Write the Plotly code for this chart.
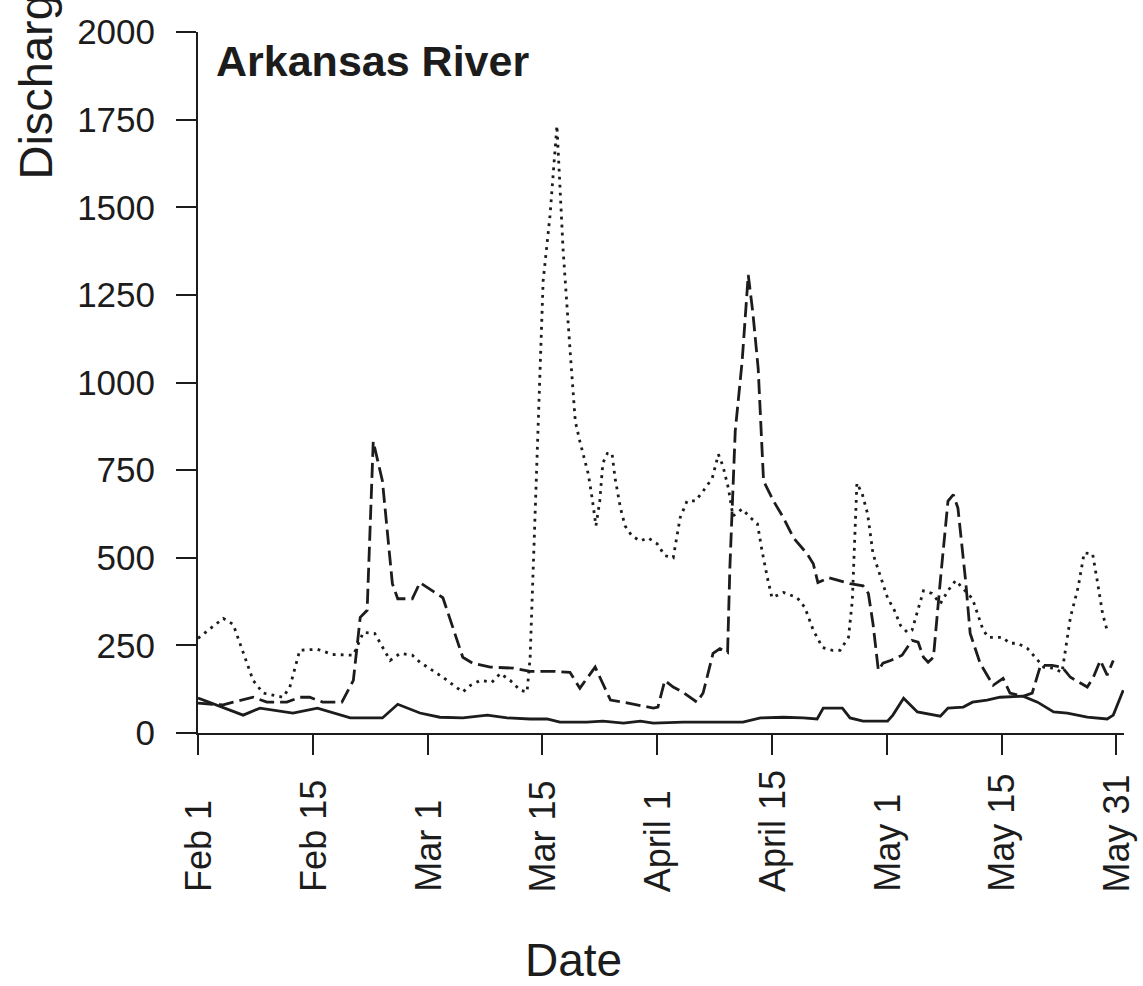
import plotly.graph_objects as go

# Day of season (0 = Feb 1, 120 = May 31) and discharge for each gauge record
days_solid = [0, 5.9, 8.1, 12.4, 15.6, 19.9, 24.1, 26.1, 29.0, 31.6,
              34.6, 37.8, 40.4, 43.4, 45.6, 47.3, 50.8, 52.9, 55.6, 57.8,
              59.5, 63.4, 67.8, 71.2, 73.5, 76.5, 79.1, 80.9, 81.7, 84.2,
              85.2, 86.9, 90.1, 90.8, 92.2, 94.0, 97.0, 98.0, 100.0, 101.2,
              103.1, 104.8, 107.8, 109.7, 111.8, 113.6, 116.2, 118.8, 119.6, 120.9]
q_solid = [100, 51, 71, 57, 71, 43, 43, 82, 57, 45,
           43, 51, 43, 40, 40, 31, 31, 34, 28, 34,
           28, 31, 31, 31, 43, 45, 43, 40, 71, 71,
           43, 34, 34, 51, 99, 60, 48, 71, 74, 88,
           94, 102, 105, 88, 60, 57, 45, 40, 51, 122]

days_dash = [0, 3.3, 4.6, 7.2, 9.0, 11.6, 13.3, 14.6, 16.3, 18.8,
             20.3, 21.2, 22.1, 22.9, 24.1, 25.4, 26.1, 28.0, 29.0, 32.0,
             34.6, 35.9, 38.2, 41.2, 43.4, 46.4, 48.6, 49.9, 51.9, 53.9,
             55.6, 57.4, 59.5, 60.1, 61.0, 62.1, 63.3, 65.2, 66.0, 67.3,
             68.2, 69.2, 69.5, 70.2, 71.1, 71.9, 72.5, 73.2, 73.9, 75.2,
             76.5, 77.8, 79.6, 80.4, 81.0, 82.4, 83.9, 85.2, 86.9, 87.6,
             88.2, 88.9, 89.5, 90.5, 92.0, 92.7, 93.3, 94.1, 94.8, 95.4,
             96.1, 97.0, 98.0, 98.7, 99.3, 100.3, 100.9, 102.2, 103.9, 105.2,
             106.1, 107.8, 109.0, 110.1, 111.6, 112.9, 114.0, 116.2, 117.0, 117.9,
             118.8, 119.6]
q_dash = [85, 80, 88, 102, 88, 88, 102, 102, 88, 88,
          150, 330, 350, 832, 719, 426, 383, 383, 429, 386,
          216, 199, 188, 185, 176, 176, 173, 128, 188, 94,
          88, 80, 71, 74, 150, 131, 117, 88, 114, 227,
          241, 230, 472, 861, 1060, 1307, 1200, 1040, 719, 662,
          614, 557, 511, 483, 429, 443, 435, 426, 420, 398,
          312, 179, 199, 207, 222, 244, 264, 259, 216, 202,
          216, 435, 662, 680, 642, 435, 284, 199, 136, 156,
          114, 105, 114, 193, 193, 188, 159, 131, 159, 207,
          165, 207]

days_dot = [0, 3.3, 4.6, 5.9, 7.2, 8.5, 11.1, 12.0, 13.3, 15.6,
            17.6, 20.3, 21.6, 23.1, 25.1, 26.4, 28.0, 29.0, 30.7, 32.0,
            33.9, 34.6, 35.6, 36.9, 38.4, 39.5, 40.8, 42.1, 43.0, 43.4,
            45.1, 46.0, 46.9, 47.7, 48.6, 49.3, 49.9, 51.0, 51.5, 52.0,
            52.5, 52.9, 53.5, 54.1, 54.5, 55.2, 55.8, 56.7, 57.8, 58.8,
            60.0, 61.0, 62.1, 63.0, 63.9, 65.0, 66.0, 67.2, 68.0, 68.6,
            69.3, 69.9, 71.1, 72.2, 73.1, 73.7, 74.4, 75.0, 76.5, 78.3,
            79.3, 80.4, 81.6, 82.9, 83.9, 85.0, 85.5, 86.1, 86.8, 87.5,
            88.2, 89.2, 90.1, 91.0, 91.8, 92.7, 93.3, 94.8, 95.9, 97.0,
            98.0, 99.0, 100.3, 101.2, 102.6, 103.3, 105.1, 106.1, 107.1, 108.4,
            109.4, 110.5, 111.8, 112.9, 114.0, 115.0, 115.8, 116.9, 117.5, 118.2,
            118.9]
q_dot = [270, 327, 310, 227, 150, 114, 102, 131, 236, 239,
         224, 222, 287, 284, 207, 227, 222, 202, 179, 159,
         128, 117, 136, 150, 145, 170, 150, 122, 117, 216,
         1290, 1477, 1733, 1381, 1097, 889, 832, 739, 670, 591,
         662, 770, 798, 798, 727, 642, 591, 562, 548, 557,
         540, 506, 500, 614, 662, 662, 690, 727, 795, 761,
         699, 619, 639, 614, 597, 520, 443, 386, 401, 386,
         358, 293, 244, 236, 236, 273, 378, 713, 682, 625,
         511, 443, 386, 350, 307, 287, 293, 406, 398, 369,
         406, 435, 406, 383, 293, 273, 273, 256, 256, 241,
         216, 188, 185, 173, 330, 415, 514, 511, 435, 341,
         284]

tick_days = [0, 15, 30, 45, 60, 75, 90, 105, 120]
tick_labels = ["Feb 1", "Feb 15", "Mar 1", "Mar 15", "April 1",
               "April 15", "May 1", "May 15", "May 31"]
y_ticks = [0, 250, 500, 750, 1000, 1250, 1500, 1750, 2000]

INK = "#1c1c1c"
FONT = "Liberation Sans, Arial, sans-serif"

fig = go.Figure()
fig.add_trace(go.Scatter(x=days_solid, y=q_solid, mode="lines",
                         line=dict(color=INK, width=2.8), showlegend=False))
fig.add_trace(go.Scatter(x=days_dash, y=q_dash, mode="lines",
                         line=dict(color=INK, width=2.8, dash="15px,6px"),
                         showlegend=False))
fig.add_trace(go.Scatter(x=days_dot, y=q_dot, mode="lines",
                         line=dict(color=INK, width=2.8, dash="2.8px,5.2px"),
                         showlegend=False))

annotations = []
# rotated date labels, aligned at their start below the axis
for d, lab in zip(tick_days, tick_labels):
    annotations.append(dict(x=d, xref="x", y=-0.2298, yref="paper",
                            text=lab, textangle=-90, showarrow=False,
                            xanchor="center", yanchor="bottom",
                            font=dict(family=FONT, size=36, color=INK)))
annotations.append(dict(x=0.406, xref="paper", y=-0.3234, yref="paper",
                        text="Date", showarrow=False,
                        xanchor="center", yanchor="middle",
                        font=dict(family=FONT, size=46, color=INK)))
annotations.append(dict(x=-0.176, xref="paper", y=0.786, yref="paper",
                        text="Discharge (m³/s)", textangle=-90, showarrow=False,
                        xanchor="center", yanchor="bottom",
                        font=dict(family=FONT, size=47, color=INK)))
annotations.append(dict(x=0.0173, xref="paper", y=0.959, yref="paper",
                        text="<b>Arkansas River</b>", showarrow=False,
                        xanchor="left", yanchor="middle",
                        font=dict(family=FONT, size=43, color=INK)))

fig.update_layout(
    width=1143, height=986,
    margin=dict(l=198, r=19, t=28, b=253),
    paper_bgcolor="white", plot_bgcolor="white",
    annotations=annotations,
    xaxis=dict(range=[0, 121], tickvals=tick_days, showticklabels=False,
               ticks="outside", ticklen=20, tickwidth=2, tickcolor=INK,
               showline=True, linecolor=INK, linewidth=2,
               showgrid=False, zeroline=False),
    yaxis=dict(range=[0, 2000], tickvals=y_ticks,
               ticks="outside", ticklen=20, tickwidth=2, tickcolor=INK,
               tickfont=dict(family=FONT, size=35, color=INK),
               ticklabelstandoff=14,
               showline=True, linecolor=INK, linewidth=2,
               showgrid=False, zeroline=False),
)

fig.write_html("out.html")
